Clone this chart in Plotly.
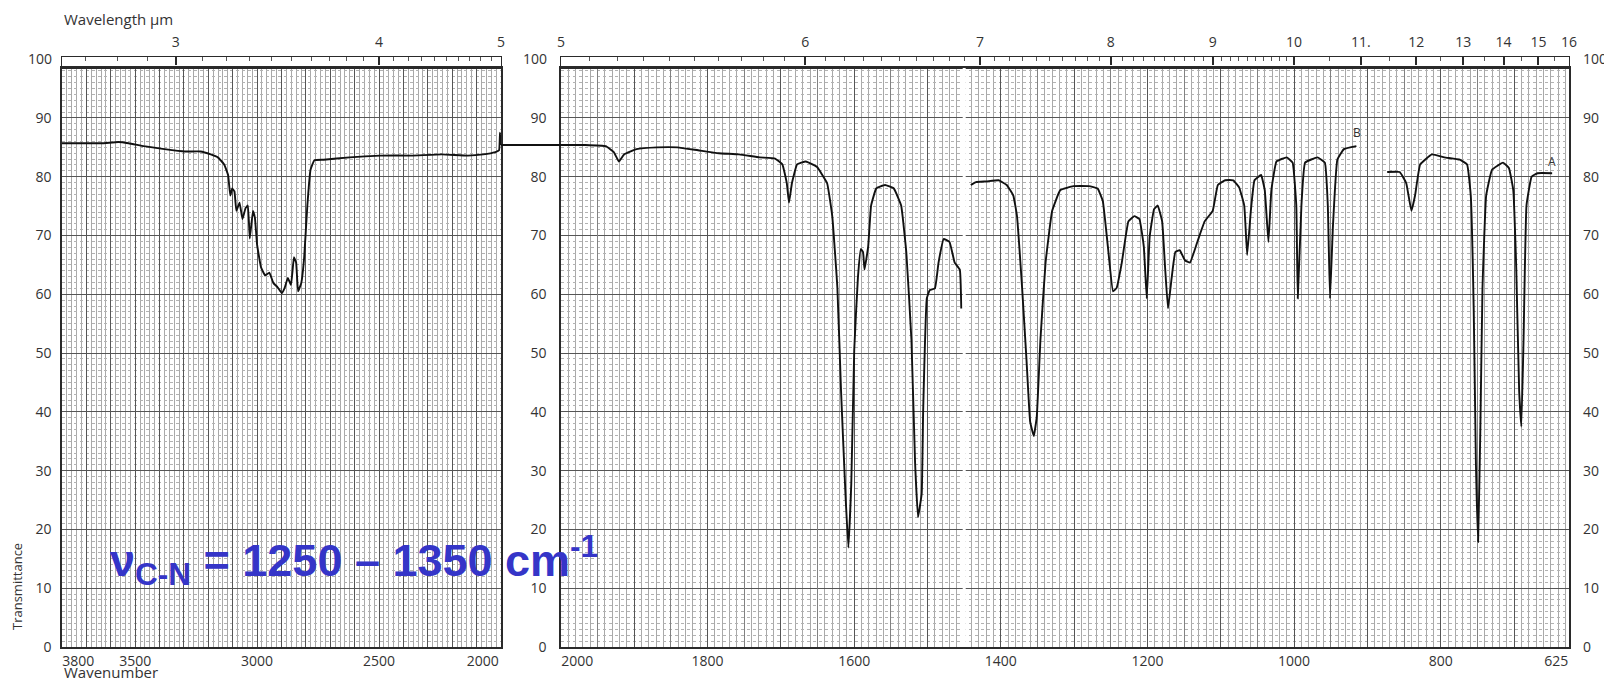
import plotly.graph_objects as go

# ---------------- data (wavenumber cm-1, % transmittance) ----------------
left_wn = [3800, 3717, 3633, 3569, 3527, 3464, 3380, 3296, 3232, 3190,
           3161, 3135, 3119, 3110, 3102, 3093, 3085, 3072, 3060, 3047,
           3038, 3030, 3017, 3009, 3000, 2984, 2967, 2950, 2933, 2916,
           2899, 2887, 2874, 2861, 2849, 2840, 2832, 2819, 2807, 2794,
           2781, 2765, 2727, 2621, 2495, 2368, 2242, 2136, 2073, 2023,
           2008, 2004, 2001]
left_t = [85.7, 85.7, 85.7, 85.9, 85.7, 85.2, 84.7, 84.3, 84.3, 83.8,
          83.3, 82.1, 80.3, 76.8, 78.0, 77.5, 74.2, 75.6, 72.8, 74.7,
          75.1, 69.5, 74.2, 73.0, 68.4, 64.6, 63.2, 63.7, 61.9, 61.2,
          60.2, 61.1, 62.8, 61.6, 66.3, 65.4, 60.5, 61.9, 66.3, 75.1,
          81.2, 82.8, 82.9, 83.3, 83.6, 83.6, 83.8, 83.6, 83.8, 84.2,
          84.5, 87.5, 85.4]

right_wn = [2000, 1967, 1939, 1928, 1921, 1914, 1897, 1869, 1841, 1813,
            1785, 1757, 1729, 1708, 1698, 1692, 1689, 1685, 1678, 1666,
            1651, 1637, 1630, 1623, 1618, 1612, 1608, 1604, 1600, 1595,
            1591, 1588, 1586, 1581, 1577, 1570, 1558, 1546, 1536, 1529,
            1522, 1517, 1513, 1508, 1506, 1501, 1497, 1490, 1485, 1478,
            1470, 1463, 1456, 1454, None,
            1441, 1434, 1420, 1403, 1392, 1383, 1378, 1371, 1365, 1360,
            1355, 1351, 1346, 1339, 1330, 1319, 1301, 1280, 1268, 1261,
            1254, 1247, 1242, 1235, 1226, 1218, 1211, 1205, 1201, 1197,
            1191, 1186, 1180, 1176, 1172, 1167, 1162, 1156, 1149, 1142,
            1132, 1122, 1111, 1104, 1094, 1083, 1075, 1068, 1064, 1059,
            1054, 1045, 1040, 1035, 1031, 1024, 1010, 1002, 997, 995,
            990, 985, 968, 958, 954, 951, 947, 941, 932, 915, None,
            873, 856, 847, 840, 835, 828, 812, 795, 774, 764,
            759, 755, 752, 749, 746, 743, 738, 730, 715, 707,
            701, 697, 693, 690, 687, 683, 676, 668, 648]
right_t = [85.4, 85.4, 85.2, 84.2, 82.6, 83.8, 84.7, 85.0, 85.0, 84.5,
           84.0, 83.8, 83.3, 83.1, 82.1, 78.9, 75.6, 78.9, 82.1, 82.6,
           81.7, 78.9, 73.3, 61.1, 43.6, 26.1, 16.9, 27.9, 50.6, 62.8,
           67.7, 67.2, 64.2, 68.1, 75.1, 78.0, 78.6, 78.0, 75.1, 67.2,
           52.3, 31.4, 22.1, 26.1, 40.1, 59.3, 60.7, 61.0, 65.4, 69.4,
           68.9, 65.4, 64.2, 57.6, None,
           78.6, 79.1, 79.2, 79.4, 78.6, 76.8, 73.3, 61.1, 48.8, 38.3,
           35.9, 39.2, 52.3, 65.4, 74.2, 77.7, 78.4, 78.4, 78.0, 75.9,
           68.1, 60.5, 61.1, 65.4, 72.4, 73.3, 72.8, 68.1, 59.3, 69.8,
           74.5, 75.1, 72.4, 64.6, 57.6, 62.8, 67.2, 67.5, 65.8, 65.4,
           68.9, 72.4, 74.2, 78.6, 79.4, 79.4, 78.2, 75.1, 66.7, 74.2,
           79.4, 80.3, 77.7, 68.9, 77.7, 82.6, 83.3, 82.4, 75.1, 59.3,
           75.1, 82.4, 83.3, 82.4, 75.1, 59.3, 71.6, 82.9, 84.7, 85.2, None,
           80.8, 80.8, 78.9, 74.2, 76.8, 82.1, 83.8, 83.3, 82.9, 82.1,
           76.8, 57.6, 31.4, 17.9, 36.6, 61.1, 76.8, 81.2, 82.4, 81.5,
           77.7, 64.6, 43.6, 37.5, 52.3, 75.1, 80.0, 80.6, 80.6]

# tick labels
y_ticks = list(range(0, 91, 10))
y_band_ticks = [100]
left_wn_labels = [3800, 3500, 3000, 2500, 2000]
right_wn_labels = [2000, 1800, 1600, 1400, 1200, 1000, 800, 625]
left_um = [3, 4, 5]
left_um_text = ["3", "4", "5"]
right_um = [5, 6, 7, 8, 9, 10, 11, 12, 13, 14, 15, 16]
right_um_text = ["5", "6", "7", "8", "9", "10", "11.", "12", "13", "14", "15", "16"]
left_um_minor = [round(2.7 + 0.1 * i, 1) for i in range(23)]
right_um_minor = [round(5.1 + 0.1 * i, 1) for i in range(49)] + [10.5, 11.5, 12.5, 13.5, 14.5, 15.5]
left_um_minor = [w for w in left_um_minor if abs(w - round(w)) > 1e-6]
right_um_minor = [w for w in right_um_minor if abs(w - round(w)) > 1e-6]

curve_labels = ["B", "A"]
curve_label_wn = [914, 648]
curve_label_t = [87.6, 82.6]

note_text = "<b>ν<sub>C-N</sub> = 1250 – 1350 cm<sup>-1</sup></b>"

# ---------------- layout helpers (page pixels -> paper fractions) ----------------
OFF = 8                # default page margin around the figure
FW, FH = 1604, 671


def fx(p):
    return (p - OFF) / FW


def fy(p):
    return 1 - (p - OFF) / FH


L_DOM = [fx(62), fx(501)]
R_DOM = [fx(561), fx(1569)]
MAIN_DOM = [fy(647), fy(68)]
BAND_DOM = [fy(68), fy(57)]
Y_RANGE = [0, 98.5]
BAND_RANGE = [98.5, 100.3]
L_RANGE = [3800, 2000]
R_RANGE = [2000, 625]

NB = "\u00a0"
tick_font = dict(family="Open Sans, sans-serif", size=14, color="#333333")
LINE = "#2a2a2a"
MAJOR = "#555555"
MEDIUM = "#828282"
MINOR = "#a9a9a9"


def pad_edges(labels, first_pad, last_pad):
    out = [str(v) for v in labels]
    out[0] = NB * first_pad + out[0]
    out[-1] = out[-1] + NB * last_pad
    return out


left_grid_extra = [v for v in range(3700, 2000, -100) if v not in left_wn_labels]
right_grid_extra = [v for v in range(1900, 699, -100) if v not in right_wn_labels]
right_grid_mid = list(range(1950, 650, -100))

fig = go.Figure()

fig.add_trace(go.Scatter(x=left_wn, y=left_t, xaxis="x", yaxis="y", mode="lines",
                         line=dict(color="#111111", width=1.9, shape="spline", smoothing=0.3),
                         hoverinfo="skip", showlegend=False))
fig.add_trace(go.Scatter(x=right_wn, y=right_t, xaxis="x2", yaxis="y2", mode="lines",
                         line=dict(color="#111111", width=1.9, shape="spline", smoothing=0.3),
                         hoverinfo="skip", showlegend=False))
# empty traces so the helper axes are drawn
for xa, ya in [("x6", "y"), ("x3", "y2"), ("x7", "y2"), ("x2", "y3"),
               ("x4", "y4"), ("x5", "y5"), ("x5", "y6")]:
    fig.add_trace(go.Scatter(x=[], y=[], xaxis=xa, yaxis=ya, mode="lines",
                             showlegend=False, hoverinfo="skip"))

main_y = dict(range=Y_RANGE, domain=MAIN_DOM, tickmode="array", tickvals=y_ticks,
              ticktext=[str(v) for v in y_ticks], tickfont=tick_font, ticks="",
              zeroline=False, showline=True, linecolor=LINE, linewidth=1.5, mirror=True,
              showgrid=True, gridcolor=MAJOR, gridwidth=1,
              minor=dict(tickmode="linear", tick0=0, dtick=1, showgrid=True,
                         gridcolor="#b2b2b2", gridwidth=0.6, griddash="dot"))
band_y = dict(range=BAND_RANGE, domain=BAND_DOM, tickmode="array", tickvals=y_band_ticks,
              ticktext=[str(v) for v in y_band_ticks], tickfont=tick_font, ticks="",
              zeroline=False, showline=True, linecolor=LINE, linewidth=1.2, mirror=True,
              showgrid=False)
grid_only = dict(showticklabels=False, ticks="", showline=False, zeroline=False, showgrid=True)
ruler = dict(tickfont=tick_font, ticks="inside", ticklen=8, tickwidth=2.2, tickcolor=LINE,
             ticklabelstandoff=3, showgrid=False, showline=True, linecolor=LINE,
             linewidth=1.2, mirror=True, zeroline=False)

fig.update_layout(
    width=FW, height=FH,
    margin=dict(l=0, r=0, t=0, b=0, pad=0, autoexpand=False),
    paper_bgcolor="white", plot_bgcolor="white",
    showlegend=False,
    # left chart, bottom wavenumber axis
    xaxis=dict(domain=L_DOM, range=L_RANGE, anchor="y", tickmode="array",
               tickvals=left_wn_labels, ticktext=pad_edges(left_wn_labels, 9, 10),
               tickfont=tick_font, ticks="", ticklabelstandoff=0,
               showgrid=True, gridcolor=MAJOR, gridwidth=1,
               minor=dict(tickmode="linear", tick0=2000, dtick=20, showgrid=True,
                          gridcolor=MINOR, gridwidth=0.7),
               showline=True, linecolor=LINE, linewidth=1.5, mirror=True, zeroline=False),
    xaxis6=dict(overlaying="x", range=L_RANGE, anchor="y", tickmode="array",
                tickvals=left_grid_extra, gridcolor=MAJOR, gridwidth=1, **grid_only),
    # right chart, bottom wavenumber axis
    xaxis2=dict(domain=R_DOM, range=R_RANGE, anchor="y2", tickmode="array",
                tickvals=right_wn_labels, ticktext=pad_edges(right_wn_labels, 9, 7),
                tickfont=tick_font, ticks="", ticklabelstandoff=0,
                showgrid=True, gridcolor=MAJOR, gridwidth=1,
                minor=dict(tickmode="linear", tick0=2000, dtick=10, showgrid=True,
                           gridcolor=MINOR, gridwidth=0.7),
                showline=True, linecolor=LINE, linewidth=1.5, mirror=True, zeroline=False),
    xaxis3=dict(overlaying="x2", range=R_RANGE, anchor="y2", tickmode="array",
                tickvals=right_grid_extra, gridcolor=MAJOR, gridwidth=1, **grid_only),
    xaxis7=dict(overlaying="x2", range=R_RANGE, anchor="y2", tickmode="array",
                tickvals=right_grid_mid, gridcolor=MEDIUM, gridwidth=0.9, **grid_only),
    # wavelength rulers on top
    xaxis4=dict(domain=L_DOM, range=L_RANGE, anchor="y4", side="top", tickmode="array",
                tickvals=[1e4 / w for w in left_um], ticktext=left_um_text,
                minor=dict(tickmode="array", tickvals=[1e4 / w for w in left_um_minor],
                           ticks="inside", ticklen=4, tickwidth=0.9, tickcolor="#555555"),
                **ruler),
    xaxis5=dict(domain=R_DOM, range=R_RANGE, anchor="y5", side="top", tickmode="array",
                tickvals=[1e4 / w for w in right_um], ticktext=right_um_text,
                minor=dict(tickmode="array", tickvals=[1e4 / w for w in right_um_minor],
                           ticks="inside", ticklen=4, tickwidth=0.9, tickcolor="#555555"),
                **ruler),
    yaxis=dict(anchor="x", ticklabelstandoff=6, **main_y),
    yaxis2=dict(anchor="x2", ticklabelstandoff=10, **main_y),
    yaxis3=dict(overlaying="y2", side="right", anchor="x2", range=Y_RANGE,
                tickmode="array", tickvals=y_ticks, ticktext=[str(v) for v in y_ticks],
                tickfont=tick_font, ticks="", ticklabelstandoff=13,
                showgrid=False, showline=False, zeroline=False),
    yaxis4=dict(anchor="x4", ticklabelstandoff=6, **band_y),
    yaxis5=dict(anchor="x5", ticklabelstandoff=10, **band_y),
    yaxis6=dict(overlaying="y5", side="right", anchor="x5", range=BAND_RANGE,
                tickmode="array", tickvals=y_band_ticks, ticktext=[str(v) for v in y_band_ticks],
                tickfont=tick_font, ticks="", ticklabelstandoff=13,
                showgrid=False, showline=False, zeroline=False),
)
fig.update_xaxes(automargin=False)
fig.update_yaxes(automargin=False)

# paper join inside the right-hand chart sheet
fig.add_shape(type="line", xref="x2", yref="y2 domain", x0=1450, x1=1450, y0=0, y1=1,
              line=dict(color="white", width=3), layer="above")

# pen trace continuing across the gap between the two chart sheets
fig.add_shape(type="line", xref="paper", yref="y", x0=L_DOM[1], x1=R_DOM[0],
              y0=right_t[0], y1=right_t[0], line=dict(color="#111111", width=1.9))

ann_font = dict(family="Open Sans, sans-serif", size=15, color="#333333")
fig.add_annotation(text="Wavelength µm", xref="paper", yref="paper", x=fx(62), y=fy(19),
                   xanchor="left", yanchor="middle", showarrow=False, font=ann_font)
fig.add_annotation(text="Wavenumber", xref="paper", yref="paper", x=fx(62), y=fy(672),
                   xanchor="left", yanchor="middle", showarrow=False, font=ann_font)
fig.add_annotation(text="Transmittance", xref="paper", yref="paper", x=fx(17), y=fy(587),
                   xanchor="center", yanchor="middle", textangle=-90, showarrow=False,
                   font=dict(family="Open Sans, sans-serif", size=13, color="#333333"))
for lab, wn, t in zip(curve_labels, curve_label_wn, curve_label_t):
    fig.add_annotation(text=lab, xref="x2", yref="y2", x=wn, y=t, showarrow=False,
                       xanchor="center", yanchor="middle",
                       font=dict(family="Open Sans, sans-serif", size=12, color="#333333"))

fig.add_annotation(text=note_text, xref="paper", yref="paper", x=fx(108), y=fy(560),
                   xanchor="left", yanchor="middle", showarrow=False,
                   font=dict(family="Liberation Sans, Arial, sans-serif", size=45, color="#3535C8"))

fig.write_html("out.html")
